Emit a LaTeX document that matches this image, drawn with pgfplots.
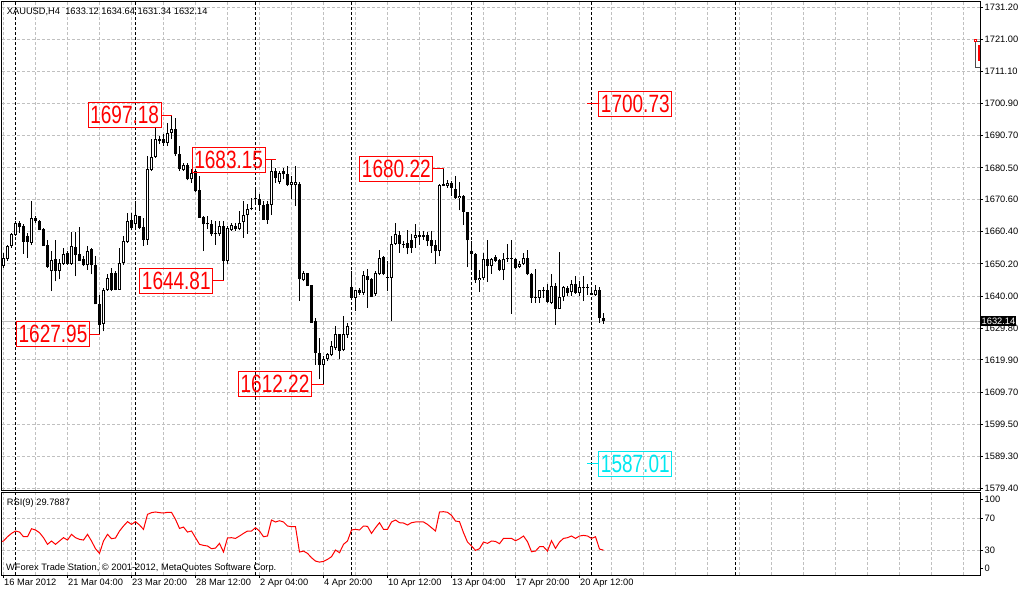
\documentclass[border=0pt]{standalone}
\usepackage{fontspec}
\setmainfont{Liberation Sans}
\usepackage{graphicx}
\usepackage{pgfplots}
\usepackage{pgfplotstable}
\pgfplotsset{compat=1.18}

\definecolor{gridc}{HTML}{C0C0C0}
\definecolor{mtred}{HTML}{FF0000}
\definecolor{mtcyan}{HTML}{00E8F0}
\newcommand\sm{\fontsize{9.3}{11}\selectfont}

% XAUUSD H4 candles: index, open, high, low, close, RSI(9)
\pgfplotstableread{
i o h l c rsi
-1 1651.6 1652.5 1639.0 1639.5 40.0
0 1649.5 1653.7 1649.0 1652.1 41.4
1 1651.9 1656.3 1651.1 1655.8 46.8
2 1655.8 1660.0 1655.3 1659.5 51.0
3 1659.3 1663.7 1659.0 1663.0 54.0
4 1663.0 1663.7 1660.0 1661.8 52.7
5 1662.1 1662.7 1653.4 1657.2 46.8
6 1659.0 1660.0 1652.1 1657.2 46.8
7 1656.9 1670.0 1656.3 1664.8 56.9
8 1664.8 1665.3 1663.2 1663.7 55.3
9 1663.9 1664.2 1660.8 1660.9 51.9
10 1661.1 1661.4 1655.8 1655.8 45.6
11 1656.1 1657.6 1649.0 1649.2 37.2
12 1647.9 1654.2 1641.6 1651.3 41.4
13 1651.6 1657.9 1644.7 1647.9 37.2
14 1647.9 1651.6 1645.3 1650.5 41.4
15 1650.2 1655.3 1650.0 1653.4 45.6
16 1653.5 1654.2 1650.0 1650.3 42.6
17 1650.3 1660.2 1650.0 1656.0 49.8
18 1655.6 1660.2 1646.3 1653.0 45.6
19 1653.2 1661.9 1651.1 1651.1 43.5
20 1651.6 1652.6 1649.5 1650.0 42.6
21 1649.8 1655.8 1648.4 1654.4 49.8
22 1654.8 1655.3 1646.9 1649.7 41.4
23 1649.7 1652.6 1637.4 1637.4 31.7
24 1637.6 1640.5 1627.95 1631.0 25.8
25 1631.3 1642.6 1628.9 1642.0 41.4
26 1641.9 1647.1 1641.6 1645.6 49.8
27 1647.4 1649.0 1641.6 1641.8 44.3
28 1647.4 1647.9 1641.8 1642.1 45.2
29 1642.1 1655.3 1642.1 1650.5 54.0
30 1650.5 1659.0 1650.0 1657.4 60.3
31 1657.2 1666.4 1656.9 1663.9 65.8
32 1664.2 1666.4 1660.8 1661.4 62.4
33 1662.7 1670.0 1661.1 1665.5 65.8
34 1665.3 1665.3 1661.1 1661.6 61.6
35 1661.8 1664.8 1655.8 1657.9 56.1
36 1657.9 1684.3 1656.3 1680.1 75.0
37 1679.8 1689.5 1679.5 1684.1 77.2
38 1684.1 1693.2 1683.7 1689.7 78.0
39 1689.7 1690.6 1688.0 1689.0 77.2
40 1689.7 1691.1 1687.4 1688.5 76.7
41 1688.5 1694.8 1687.4 1691.6 77.6
42 1691.6 1697.18 1689.5 1692.9 77.6
43 1692.9 1696.4 1684.3 1684.8 68.7
44 1684.8 1687.4 1679.5 1680.1 57.3
45 1679.8 1682.2 1679.5 1681.3 59.0
46 1681.3 1682.2 1676.6 1676.9 52.7
47 1676.9 1680.1 1675.8 1679.0 54.0
48 1679.5 1680.1 1673.0 1673.2 45.6
49 1673.4 1677.9 1664.8 1664.8 37.2
50 1665.0 1665.3 1654.2 1662.7 35.9
51 1662.7 1665.3 1661.1 1663.0 35.1
52 1662.7 1664.2 1659.0 1659.5 31.7
53 1660.0 1663.7 1656.3 1659.5 32.5
54 1659.5 1663.7 1659.0 1662.1 38.4
55 1662.1 1663.7 1644.81 1651.1 27.5
56 1651.1 1662.1 1650.2 1661.4 45.2
57 1660.8 1663.2 1660.5 1662.4 45.6
58 1662.1 1663.2 1660.5 1661.1 44.7
59 1661.1 1666.9 1660.8 1663.2 47.7
60 1663.4 1670.0 1658.5 1665.8 51.0
61 1665.6 1669.2 1659.7 1667.4 54.0
62 1667.4 1671.1 1667.1 1667.7 54.0
63 1671.1 1674.3 1669.0 1670.6 58.2
64 1670.8 1672.2 1666.9 1668.8 54.0
65 1668.8 1670.0 1664.2 1664.2 46.8
66 1669.2 1670.0 1662.9 1664.2 47.7
67 1668.8 1683.15 1665.6 1679.5 67.9
68 1679.5 1680.6 1675.8 1677.4 65.4
69 1676.2 1679.5 1675.5 1679.0 67.0
70 1679.5 1680.6 1676.9 1678.5 65.4
71 1678.5 1681.1 1674.8 1675.1 60.3
72 1675.1 1677.9 1670.6 1676.2 59.5
73 1675.1 1681.1 1668.5 1676.2 59.5
74 1675.3 1676.0 1638.6 1645.3 27.5
75 1645.0 1647.9 1644.7 1647.2 28.7
76 1647.2 1647.4 1643.2 1643.2 25.8
77 1643.4 1643.4 1631.6 1631.6 20.3
78 1632.1 1633.1 1618.4 1622.1 16.1
79 1622.1 1626.8 1613.7 1618.4 14.8
80 1618.4 1621.0 1612.22 1620.3 15.7
81 1620.0 1622.1 1619.5 1621.6 18.2
82 1621.4 1625.8 1621.0 1624.2 21.6
83 1623.5 1630.5 1623.1 1627.9 30.0
84 1627.9 1627.9 1620.0 1622.8 26.6
85 1622.9 1633.7 1622.6 1627.9 37.2
86 1627.7 1631.6 1626.8 1630.7 41.4
87 1642.8 1647.9 1639.5 1639.5 55.3
88 1639.5 1642.1 1635.3 1641.8 56.1
89 1641.8 1642.6 1640.5 1641.1 55.3
90 1641.1 1647.9 1640.5 1646.6 60.3
91 1646.3 1648.7 1636.3 1645.1 59.9
92 1645.3 1645.8 1639.7 1639.7 51.0
93 1640.7 1647.9 1640.2 1647.2 58.2
94 1646.9 1654.6 1646.6 1652.1 64.5
95 1652.3 1652.6 1646.6 1646.9 56.1
96 1646.0 1651.1 1641.6 1645.8 56.1
97 1645.8 1659.0 1632.1 1656.5 65.4
98 1656.5 1663.2 1656.3 1659.5 67.9
99 1659.2 1660.6 1653.7 1656.5 64.5
100 1656.5 1657.4 1655.3 1656.1 64.1
101 1656.9 1660.8 1653.2 1655.1 61.6
102 1657.9 1659.5 1653.7 1655.3 64.5
103 1658.4 1662.7 1655.3 1659.2 65.4
104 1659.2 1660.6 1656.3 1658.7 65.4
105 1659.2 1660.6 1657.9 1658.8 65.4
106 1659.2 1660.3 1655.8 1657.4 62.4
107 1657.9 1660.6 1653.7 1655.8 58.2
108 1656.1 1657.9 1650.2 1654.2 54.0
109 1654.2 1675.3 1652.6 1675.0 78.0
110 1674.8 1680.22 1674.8 1675.3 78.4
111 1674.8 1676.6 1674.3 1675.6 77.6
112 1675.8 1676.4 1671.6 1674.3 73.8
113 1674.0 1677.9 1670.6 1670.9 66.6
114 1671.1 1676.2 1667.1 1671.8 65.8
115 1671.8 1671.9 1662.5 1666.7 51.9
116 1666.7 1666.7 1649.2 1657.6 40.1
117 1654.2 1657.4 1648.7 1653.4 35.1
118 1653.4 1653.7 1644.2 1645.0 29.6
119 1645.0 1648.4 1641.3 1645.8 31.7
120 1645.6 1653.7 1645.0 1651.6 40.1
121 1651.6 1657.9 1644.5 1649.5 38.4
122 1649.5 1652.1 1647.1 1651.6 41.4
123 1652.3 1653.0 1650.8 1651.1 40.9
124 1651.3 1651.6 1647.9 1648.2 38.0
125 1648.2 1653.7 1645.1 1651.8 44.7
126 1652.1 1656.6 1650.9 1651.8 44.7
127 1652.1 1657.6 1634.5 1651.8 44.7
128 1651.9 1652.1 1648.7 1649.0 41.8
129 1649.2 1651.1 1649.0 1650.2 44.3
130 1650.2 1653.7 1649.8 1652.1 47.7
131 1652.1 1654.5 1646.6 1646.9 40.5
132 1647.1 1647.4 1637.9 1639.5 27.9
133 1639.8 1648.7 1637.9 1639.5 28.7
134 1639.5 1642.1 1637.9 1641.9 34.2
135 1641.5 1642.8 1639.5 1641.7 34.2
136 1641.8 1643.7 1637.9 1638.2 28.7
137 1637.9 1646.9 1637.4 1643.2 41.8
138 1643.2 1644.2 1631.0 1636.1 32.1
139 1636.1 1653.9 1635.8 1639.7 40.1
140 1639.7 1643.2 1638.4 1642.8 44.7
141 1642.6 1643.2 1640.0 1641.1 45.6
142 1641.3 1645.1 1640.0 1644.0 47.7
143 1644.0 1646.3 1640.7 1641.1 44.7
144 1641.1 1644.7 1640.0 1642.8 47.7
145 1642.7 1646.5 1638.4 1642.9 48.5
146 1642.8 1643.7 1640.3 1642.7 47.7
147 1641.1 1642.8 1640.3 1640.5 44.7
148 1640.5 1643.5 1640.0 1642.1 46.8
149 1642.1 1642.8 1631.6 1633.1 31.3
150 1633.12 1634.64 1631.34 1632.14 29.79
}\ohlc

\pgfplotsset{
  mt/.style={scale only axis, width=978pt, xmin=-0.375, xmax=244.125,
    axis line style={black, line width=1pt},
    major grid style={gridc, line width=1pt, dash pattern=on 3pt off 2pt},
    tick align=outside, major tick length=3pt,
    xtick pos=left, ytick pos=right, yticklabel pos=right,
    tick style={black, line width=1pt},
    yticklabel style={font=\sm, anchor=west, inner sep=0pt, xshift=1.5pt},
    xticklabel style={font=\sm, anchor=north west, inner sep=0pt, xshift=0.5pt, yshift=-1pt},
  },
}
\tikzset{
  sep/.style={black, line width=1pt, dash pattern=on 3pt off 2pt},
  lab/.style={draw=mtred, text=mtred, line width=1pt, inner sep=0pt,
    minimum width=73pt, minimum height=25pt, font=\fontsize{25}{25}\selectfont},
}
\newcommand\num[1]{\scalebox{0.76}[1]{#1}}

\begin{document}
\begin{tikzpicture}
\useasboundingbox (0pt,0pt) rectangle (1018pt,-592pt);

% ---- price panel
\begin{axis}[mt, at={(2pt,-1pt)}, anchor=north west, height=489pt,
  ymin=1578.77, ymax=1733.25,
  xtick={0,8,...,240}, xticklabels={}, x tick style={draw=none},
  xmajorgrids, ymajorgrids,
  ytick={1579.4,1589.3,1599.5,1609.7,1619.9,1629.8,1640.0,1650.2,1660.4,1670.6,1680.5,1690.7,1700.9,1711.1,1721.0,1731.2},
  yticklabels={1579.40,1589.30,1599.50,1609.70,1619.90,1629.80,1640.00,1650.20,1660.40,1670.60,1680.50,1690.70,1700.90,1711.10,1721.00,1731.20}]
  \pgfplotsinvokeforeach{3,33,63,87,117,147,183}{
    \draw[sep] (axis cs:#1,1578.77) -- (axis cs:#1,1733.25);}
  \draw[gridc, line width=1pt] (axis cs:-0.375,1632.14) -- (axis cs:244.125,1632.14);
  % wicks
  \addplot[draw=none, mark=none, forget plot,
    error bars/.cd, y dir=plus, y explicit, error mark=none,
    error bar style={draw=black, solid, line width=1pt}]
    table[x=i, y=l, y error expr={\thisrow{h}-\thisrow{l}}] {\ohlc};
  % bodies
  \addplot[draw=none, mark=none, forget plot,
    error bars/.cd, y dir=plus, y explicit, error mark=none,
    error bar style={draw=black, solid, line width=3pt}]
    table[x=i, y expr={min(\thisrow{o},\thisrow{c})},
      y error expr={max(abs(\thisrow{c}-\thisrow{o}),0.32)}] {\ohlc};
  % hollow inside of rising candles
  \addplot[draw=none, mark=none, forget plot,
    error bars/.cd, y dir=plus, y explicit, error mark=none,
    error bar style={draw=white, solid, line width=1pt}]
    table[x=i, y expr={\thisrow{o}+0.316},
      y error expr={max(\thisrow{c}-\thisrow{o}-0.632,0)}] {\ohlc};
  % labels
  \node[lab, anchor=east] at (axis cs:39.55,1697.18) {\num{1697.18}};
  \draw[mtred, line width=1pt] (axis cs:39.55,1697.18) -- (axis cs:42,1697.18);
  \node[lab, anchor=east] at (axis cs:65.55,1683.15) {\num{1683.15}};
  \draw[mtred, line width=1pt] (axis cs:65.55,1683.15) -- (axis cs:68,1683.15);
  \node[lab, anchor=east] at (axis cs:52.45,1644.81) {\num{1644.81}};
  \draw[mtred, line width=1pt] (axis cs:52.45,1644.81) -- (axis cs:55,1644.81);
  \node[lab, anchor=east] at (axis cs:21.625,1627.95) {\num{1627.95}};
  \draw[mtred, line width=1pt] (axis cs:21.625,1627.95) -- (axis cs:24,1627.95);
  \node[lab, anchor=east] at (axis cs:77.125,1612.22) {\num{1612.22}};
  \draw[mtred, line width=1pt] (axis cs:77.125,1612.22) -- (axis cs:80,1612.22);
  \node[lab, anchor=east] at (axis cs:107.45,1680.22) {\num{1680.22}};
  \draw[mtred, line width=1pt] (axis cs:107.45,1680.22) -- (axis cs:110,1680.22);
  \node[lab, anchor=west] at (axis cs:148.7,1700.73) {\num{1700.73}};
  \draw[mtred, line width=1pt] (axis cs:145.95,1700.73) -- (axis cs:148.7,1700.73);
  \node[lab, draw=mtcyan, text=mtcyan, anchor=west] at (axis cs:148.7,1587.01) {\num{1587.01}};
  \draw[mtcyan, line width=1pt] (axis cs:145.95,1587.01) -- (axis cs:148.7,1587.01);
  % object at the right edge
  \draw[black!70, line width=1pt] (axis cs:242.9,1720.6) rectangle (axis cs:244.125,1712.1);
  \fill[mtred] (axis cs:243.65,1719.35) rectangle (axis cs:244.125,1714.3);
  \draw[mtred, line width=0.8pt] (axis cs:242.75,1721.2) rectangle (axis cs:243.2,1720.5);
  \coordinate (cp) at (axis cs:244.125,1632.14);
\end{axis}
\node[fill=black, text=white, font=\sm, inner xsep=1pt, inner ysep=1.5pt, anchor=west] at ([xshift=0.5pt]cp) {1632.14};

% ---- RSI panel
\begin{axis}[mt, at={(2pt,-492.5pt)}, anchor=north west, height=82.5pt,
  ymin=-1.5, ymax=102.6,
  xtick={0,16,...,144},
  xticklabels={16 Mar 2012,21 Mar 04:00,23 Mar 20:00,28 Mar 12:00,2 Apr 04:00,4 Apr 20:00,10 Apr 12:00,13 Apr 04:00,17 Apr 20:00,20 Apr 12:00},
  extra x ticks={8,24,...,136,152,160,...,240}, extra x tick labels={},
  extra x tick style={major tick length=0pt, xmajorgrids},
  xmajorgrids, ymajorgrids,
  ytick={30,70}, yticklabels={30,70},
  extra y ticks={7,94}, extra y tick labels={0,100},
  extra y tick style={ymajorgrids=false}]
  \pgfplotsinvokeforeach{3,33,63,87,117,147,183}{
    \draw[sep] (axis cs:#1,-1.5) -- (axis cs:#1,102.6);}
  \addplot[mtred, line width=1pt, mark=none] table[x=i, y=rsi] {\ohlc};
\end{axis}

\node[anchor=base west, inner sep=0pt, font=\sm] at (6.7pt,-14pt) {XAUUSD,H4\ \ 1633.12 1634.64 1631.34 1632.14};
\node[anchor=base west, inner sep=0pt, font=\sm] at (6.7pt,-505.7pt) {RSI(9) 29.7887};
\node[anchor=base west, inner sep=0pt, font=\sm] at (6pt,-570.7pt) {WForex Trade Station, © 2001-2012, MetaQuotes Software Corp.};
\end{tikzpicture}
\end{document}
